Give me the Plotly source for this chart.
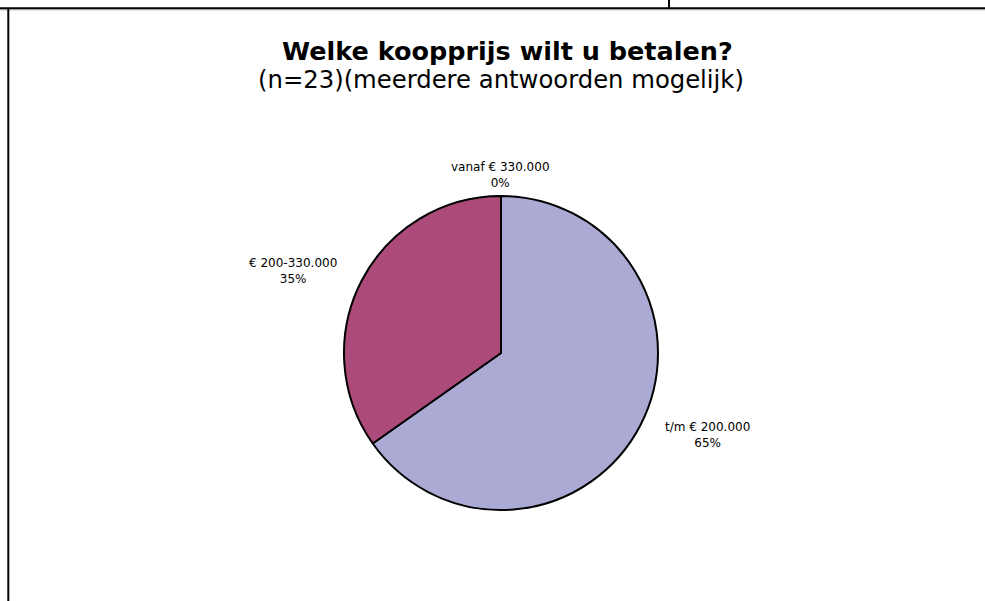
import math
import plotly.graph_objects as go

# Data
categories = ["t/m € 200.000", "€ 200-330.000", "vanaf € 330.000"]
counts = [15, 8, 0]  # n = 23
colors = ["#AAAAD4", "#AC4A7A", "#9999FF"]
title_text = "Welke koopprijs wilt u betalen?"
subtitle_text = "(n=23)(meerdere antwoorden mogelijk)"

W, H = 985, 601
# pie geometry (pixels)
CX, CY, R = 501, 353, 157

fig = go.Figure()
fig.add_trace(go.Pie(
    labels=categories,
    values=counts,
    sort=False,
    direction="clockwise",
    rotation=0,
    marker=dict(colors=colors, line=dict(color="black", width=2)),
    textinfo="none",
    hoverinfo="label+percent",
    showlegend=False,
    domain=dict(x=[(CX - R) / W, (CX + R) / W], y=[(H - CY - R) / H, (H - CY + R) / H]),
))

# data labels computed from the slice angles
total = sum(counts)
cum = 0
annotations = []
for cat, v in zip(categories, counts):
    frac = v / total
    mid = (cum + frac / 2) * 2 * math.pi
    cum += frac
    s, c = math.sin(mid), math.cos(mid)
    px = CX + R * s + 26 * s
    py = CY - R * c - 21 * c
    if s > 0.2:
        xa = "left"
    elif s < -0.2:
        xa = "right"
    else:
        xa = "center"
    pct = round(frac * 100)
    annotations.append(dict(
        x=px / W, y=1 - py / H, xref="paper", yref="paper",
        text=f"{cat}<br>{pct}%", showarrow=False,
        xanchor=xa, yanchor="middle", align="center",
        font=dict(family="DejaVu Sans", size=12, color="black"),
    ))

annotations.append(dict(
    x=507 / W, y=1 - 51 / H, xref="paper", yref="paper",
    text=f"<b>{title_text}</b>", showarrow=False,
    xanchor="center", yanchor="middle",
    font=dict(family="DejaVu Sans", size=25.5, color="black"),
))
annotations.append(dict(
    x=501 / W, y=1 - 79 / H, xref="paper", yref="paper",
    text=subtitle_text, showarrow=False,
    xanchor="center", yanchor="middle",
    font=dict(family="DejaVu Sans", size=24.3, color="black"),
))

shapes = [
    dict(type="line", xref="paper", yref="paper", x0=0, x1=1, y0=1 - 8.3 / H, y1=1 - 8.3 / H,
         line=dict(color="black", width=2)),
    dict(type="line", xref="paper", yref="paper", x0=0, x1=1, y0=1 - 9.8 / H, y1=1 - 9.8 / H,
         line=dict(color="#999999", width=1)),
    dict(type="line", xref="paper", yref="paper", x0=8.3 / W, x1=8.3 / W, y0=0, y1=1 - 8 / H,
         line=dict(color="black", width=2)),
    dict(type="line", xref="paper", yref="paper", x0=669 / W, x1=669 / W, y0=1 - 8 / H, y1=1,
         line=dict(color="black", width=2)),
]

fig.update_layout(
    width=W, height=H,
    margin=dict(l=0, r=0, t=0, b=0),
    paper_bgcolor="white", plot_bgcolor="white",
    annotations=annotations, shapes=shapes,
    font=dict(family="DejaVu Sans"),
)

fig.write_html("out.html", config={"displayModeBar": False},
               post_script="document.body.style.margin='0px';")
